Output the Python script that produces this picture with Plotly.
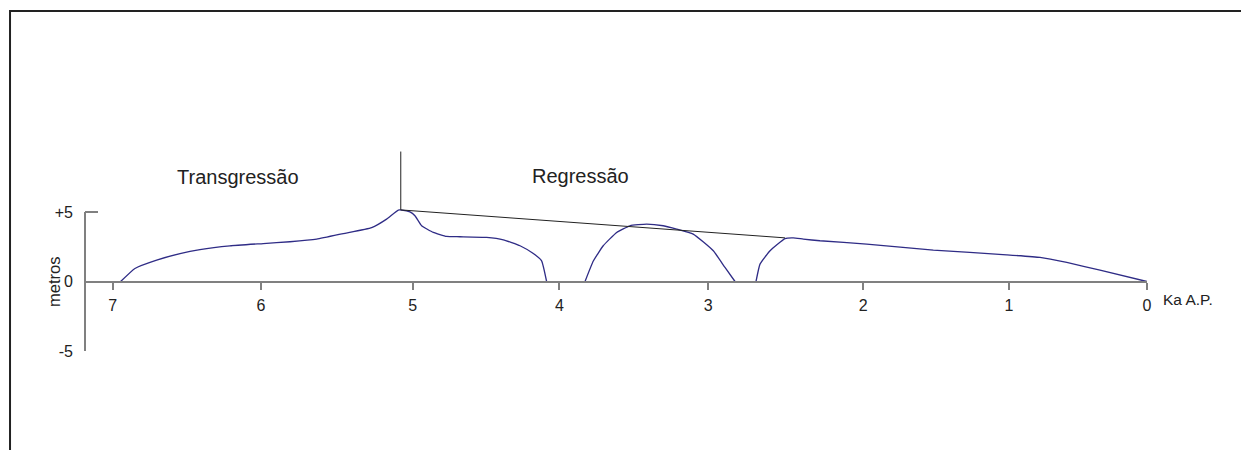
import plotly.graph_objects as go

# ---- data (x in Ka A.P., y in metres) ----
transg_x = [6.946, 6.849, 6.702, 6.544, 6.409, 6.206, 5.981, 5.800, 5.619, 5.439, 5.247, 5.146, 5.067,
            5.044, 4.988, 4.954, 4.909, 4.830, 4.740, 4.649, 4.469, 4.356, 4.243, 4.153, 4.097, 4.063]
transg_y = [0.0, 0.94, 1.54, 2.01, 2.30, 2.57, 2.73, 2.86, 3.05, 3.45, 3.88, 4.49, 5.14,
            5.14, 5.01, 4.73, 4.01, 3.53, 3.24, 3.22, 3.17, 3.00, 2.57, 2.01, 1.49, 0.0]

dome_x = [3.803, 3.747, 3.680, 3.589, 3.499, 3.386, 3.274, 3.183, 3.071, 2.935, 2.856, 2.788]
dome_y = [0.0, 1.47, 2.57, 3.53, 4.01, 4.13, 4.01, 3.77, 3.41, 2.21, 1.01, 0.0]

recent_x = [2.646, 2.619, 2.551, 2.450, 2.394, 2.326, 2.213, 1.897, 1.446, 0.950, 0.724, 0.543, 0.318, 0.0]
recent_y = [0.0, 1.25, 2.21, 3.09, 3.14, 3.05, 2.93, 2.69, 2.26, 1.92, 1.73, 1.37, 0.82, 0.0]

trend_x = [5.05, 2.45]
trend_y = [5.15, 3.14]

marker_x = [5.05, 5.05]
marker_y = [5.15, 9.35]

x_tick_vals = [7.0, 5.996, 4.970, 3.977, 2.969, 1.920, 0.934, 0.0]
x_tick_text = ["7", "6", "5", "4", "3", "2", "1", "0"]
y_tick_vals = [-5, 0, 5]
y_tick_text = ["-5", "0", "+5"]

BLUE = "#2f2c86"
GRAY = "#808080"
INK = "#222222"
FONT = "Arial, Liberation Sans, sans-serif"

fig = go.Figure()
for xs, ys in [(transg_x, transg_y), (dome_x, dome_y), (recent_x, recent_y)]:
    fig.add_trace(go.Scatter(x=xs, y=ys, mode="lines",
                             line=dict(color=BLUE, width=1.3, shape="spline", smoothing=0.4),
                             showlegend=False, hoverinfo="skip"))
fig.add_trace(go.Scatter(x=trend_x, y=trend_y, mode="lines",
                         line=dict(color=INK, width=1), showlegend=False, hoverinfo="skip"))
fig.add_trace(go.Scatter(x=marker_x, y=marker_y, mode="lines",
                         line=dict(color=INK, width=1), showlegend=False, hoverinfo="skip"))

y_lo, y_hi = -5, 10.18
fig.update_layout(
    width=1241, height=442,
    margin=dict(l=77, r=102, t=132, b=99),
    paper_bgcolor="white", plot_bgcolor="white",
    font=dict(family=FONT, color=INK, size=16),
    xaxis=dict(range=[7.187, 0], showgrid=False, zeroline=False,
               showline=True, linecolor=GRAY, linewidth=2,
               anchor="free", position=(0 - y_lo) / (y_hi - y_lo),
               ticks="outside", ticklen=7, tickwidth=2, tickcolor=GRAY,
               tickvals=x_tick_vals, ticktext=x_tick_text,
               tickfont=dict(size=16, color=INK), ticklabelstandoff=2),
    yaxis=dict(range=[y_lo, y_hi], showgrid=False, zeroline=False, showline=False,
               ticks="inside", ticklen=13, tickwidth=2, tickcolor=GRAY,
               tickvals=y_tick_vals, ticktext=y_tick_text,
               tickfont=dict(size=16, color=INK), ticklabelstandoff=11),
    shapes=[
        dict(type="line", xref="paper", yref="y", x0=0, x1=0, y0=-5, y1=5,
             line=dict(color=GRAY, width=2)),
        dict(type="rect", xref="paper", yref="paper", x0=-0.0706, x1=1.10, y0=-0.48, y1=1.6114,
             line=dict(color=INK, width=2), layer="above"),
    ],
    annotations=[
        dict(text="Transgressão", x=6.152, y=7.55, xref="x", yref="y", showarrow=False,
             xanchor="center", yanchor="middle", font=dict(size=20, color=INK)),
        dict(text="Regressão", x=3.834, y=7.6, xref="x", yref="y", showarrow=False,
             xanchor="center", yanchor="middle", font=dict(size=20, color=INK)),
        dict(text="metros", x=-0.0292, y=0.327, xref="paper", yref="paper", showarrow=False,
             xanchor="center", yanchor="middle", textangle=-90, font=dict(size=16.5, color=INK)),
        dict(text="Ka A.P.", x=1.0132, y=0.2431, xref="paper", yref="paper", showarrow=False,
             xanchor="left", yanchor="middle", font=dict(size=15.5, color=INK)),
    ],
)

fig.write_html("out.html")
